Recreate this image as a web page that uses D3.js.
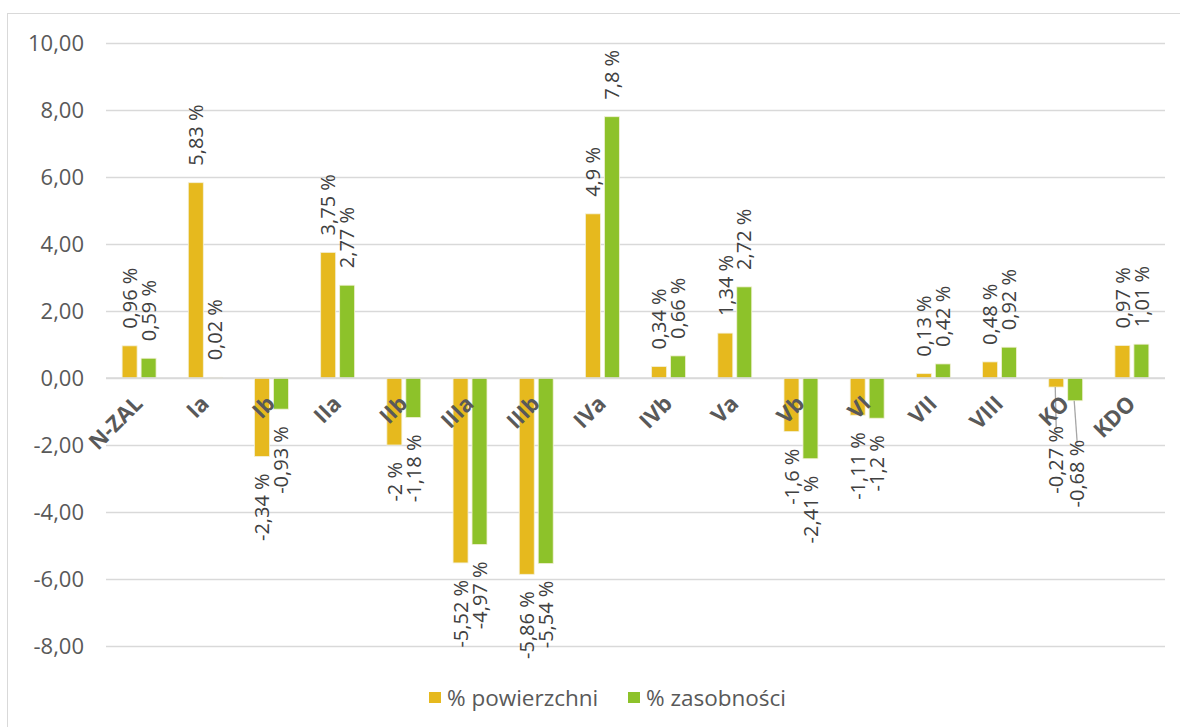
<!DOCTYPE html>
<html><head><meta charset="utf-8">
<script src="https://cdn.jsdelivr.net/npm/d3@7"></script>
<style>body{margin:0;background:#fff}svg{display:block}</style>
</head><body><svg id="c" width="1180" height="727"></svg>
<script>
const categories = ["N-ZAL","Ia","Ib","IIa","IIb","IIIa","IIIb","IVa","IVb","Va","Vb","VI","VII","VIII","KO","KDO"];
const powierzchni = [0.96,5.83,-2.34,3.75,-2,-5.52,-5.86,4.9,0.34,1.34,-1.6,-1.11,0.13,0.48,-0.27,0.97];
const zasobnosci = [0.59,0.02,-0.93,2.77,-1.18,-4.97,-5.54,7.8,0.66,2.72,-2.41,-1.2,0.42,0.92,-0.68,1.01];
const seriesNames = ["% powierzchni","% zasobności"];
const yTicks = [-8,-6,-4,-2,0,2,4,6,8,10];
const colors = ["#E6B91E","#8DC22A"];
const movedLabels = {"KO":22};

const svg = d3.select("#c");
const m={left:106,right:1165,top:43,bottom:646};
svg.append("rect").attr("x",7.5).attr("y",13.5).attr("width",1185).attr("height",730).attr("fill","#fff").attr("stroke","#d9d9d9");

const y = d3.scaleLinear().domain([-8,10]).range([m.bottom,m.top]);
const x = d3.scaleBand().domain(categories).range([m.left,m.right]);
const xs = d3.scaleBand().domain([0,1]).range([0,x.bandwidth()]).paddingInner(0.21).paddingOuter(0.85);

const fontAx = "'Open Sans', 'Liberation Sans', sans-serif";
const yAxis = d3.axisLeft(y).tickValues(yTicks).tickSize(-(m.right-m.left)).tickFormat(d=>d3.format(".2f")(d).replace(".",",").replace("−","-"));
const gy = svg.append("g").attr("transform",`translate(${m.left},0)`).call(yAxis);
gy.select(".domain").remove();
gy.selectAll(".tick line").attr("stroke","#d9d9d9").attr("stroke-width",1.5);
gy.selectAll(".tick text").attr("x",-22).attr("fill","#595959").style("font-family",fontAx).style("font-size","22px");

const series=[powierzchni,zasobnosci];
const fmt = v => String(v).replace(".",",") + " %";
series.forEach((vals,si)=>{
  const g = svg.append("g");
  g.selectAll("rect").data(vals).join("rect")
    .attr("x",(d,i)=>x(categories[i])+xs(si))
    .attr("width",xs.bandwidth())
    .attr("y",d=>y(Math.max(0,d)))
    .attr("height",d=>Math.abs(y(d)-y(0)))
    .attr("fill",colors[si]).attr("stroke","#f3f0d8").attr("stroke-width",0.8);
});
svg.append("line").attr("x1",m.left).attr("x2",m.right).attr("y1",y(0)).attr("y2",y(0)).attr("stroke","#d9d9d9").attr("stroke-width",1.5);

// data labels
series.forEach((vals,si)=>{
  vals.forEach((v,i)=>{
    const cx = x(categories[i])+xs(si)+xs.bandwidth()/2;
    const shift = movedLabels[categories[i]]||0;
    let py, anchor;
    if(v>=0){py=y(v)-17;anchor="start";}
    else{py=y(v)+17+shift;anchor="end";}
    const lx = cx + (shift ? si*2 : 0);
    if(shift){
      svg.append("line").attr("x1",cx-1).attr("x2",lx).attr("y1",y(v)).attr("y2",py+3).attr("stroke","#a6a6a6").attr("stroke-width",1.3);
    }
    svg.append("text").attr("transform",`translate(${lx},${py}) rotate(-90)`)
      .attr("text-anchor",anchor).attr("dy","0.36em")
      .attr("fill","#404040").style("font-family",fontAx).style("font-size","20px")
      .text(fmt(v));
  });
});

// category labels
categories.forEach(c=>{
  const cx = x(c)+x.bandwidth()/2;
  svg.append("text").attr("transform",`translate(${cx+5},${y(0)+27}) rotate(-45)`)
    .attr("text-anchor","end")
    .attr("fill","#595959").style("font-family",fontAx).style("font-size","22px").style("font-weight","bold")
    .text(c);
});

// legend
const lg = svg.append("g");
const lx=[429,628];
seriesNames.forEach((n,i)=>{
  lg.append("rect").attr("x",lx[i]).attr("y",692).attr("width",12).attr("height",11).attr("fill",colors[i]);
  lg.append("text").attr("x",lx[i]+18).attr("y",698).attr("dy","0.36em").attr("fill","#595959")
    .style("font-family",fontAx).style("font-size","22.5px").text(n);
});
</script></body></html>
